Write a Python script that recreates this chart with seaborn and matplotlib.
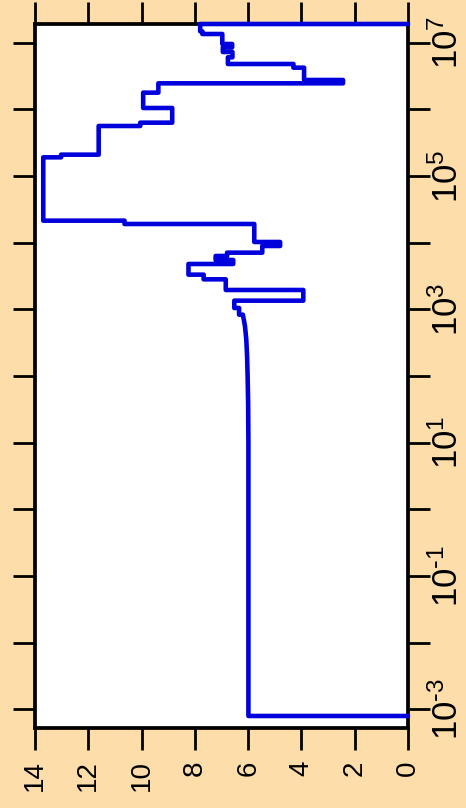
import numpy as np
import pandas as pd
import matplotlib
matplotlib.use("Agg")
import matplotlib.pyplot as plt
from matplotlib.ticker import NullLocator, FuncFormatter, FixedLocator
import seaborn as sns

# Profile vertices: level value and log10 of time, in order of increasing time
value = [0.00, 5.99, 5.99, 6.00, 6.02, 6.04, 6.07, 6.12, 6.17, 6.20,
         6.34, 6.34, 6.52, 6.52, 3.93, 3.93, 6.84, 6.84, 7.67, 7.67,
         8.24, 8.24, 6.56, 6.56, 7.22, 7.22, 6.79, 6.79, 5.47, 5.47,
         4.80, 4.80, 5.77, 5.77, 10.64, 10.64, 13.69, 13.69, 13.02, 13.02,
         11.61, 11.61, 10.05, 10.05, 8.85, 8.85, 9.94, 9.94, 9.37, 9.37,
         2.44, 2.44, 3.90, 3.90, 4.30, 4.30, 6.76, 6.76, 6.59, 6.59,
         6.95, 6.95, 6.60, 6.60, 6.97, 6.97, 7.72, 7.72, 7.80, 7.80,
         0.00]
log10_time = [-3.10, -3.10, 1.00, 1.60, 2.00, 2.30, 2.55, 2.75, 2.86, 2.92,
              2.92, 3.02, 3.02, 3.13, 3.13, 3.29, 3.29, 3.45, 3.45, 3.52,
              3.52, 3.68, 3.68, 3.74, 3.74, 3.80, 3.80, 3.85, 3.85, 3.95,
              3.95, 4.01, 4.01, 4.28, 4.28, 4.33, 4.33, 5.28, 5.28, 5.32,
              5.32, 5.75, 5.75, 5.80, 5.80, 6.02, 6.02, 6.25, 6.25, 6.39,
              6.39, 6.44, 6.44, 6.625, 6.625, 6.68, 6.68, 6.78, 6.78, 6.86,
              6.86, 6.93, 6.93, 6.98, 6.98, 7.13, 7.13, 7.17, 7.17, 7.28,
              7.28]

value_ticks = [0, 2, 4, 6, 8, 10, 12, 14]
time_exponents = list(range(-3, 8))
labelled_exponents = [-3, -1, 1, 3, 5, 7]

bg = "#FDDDAA"
line_color = "#0000DD"

df = pd.DataFrame({"value": value, "time": 10.0 ** np.array(log10_time)})

sns.set_style("white")
plt.rcParams["font.family"] = ["Liberation Sans", "DejaVu Sans"]
plt.rcParams["mathtext.default"] = "regular"
plt.rcParams["text.color"] = "black"

fig = plt.figure(figsize=(4.66, 8.08), dpi=100, facecolor=bg)
ax = fig.add_axes([35 / 466, 80.3 / 808, 373 / 466, 703.7 / 808])
ax.set_facecolor("white")
ax.set_yscale("log")

sns.lineplot(data=df, x="value", y="time", sort=False, estimator=None,
             color=line_color, lw=3.3, ax=ax, clip_on=False, zorder=5)

ax.set_xlim(14, 0)
ax.set_ylim(10 ** -3.276, 10 ** 7.28)
ax.set_xlabel("")
ax.set_ylabel("")

ax.xaxis.set_major_locator(FixedLocator(value_ticks))
ax.yaxis.set_major_locator(FixedLocator([10.0 ** e for e in time_exponents]))
ax.yaxis.set_minor_locator(NullLocator())


def time_label(v, pos):
    e = int(round(np.log10(v)))
    if e not in labelled_exponents:
        return ""
    if e < 0:
        return r"$\mathdefault{10^{\text{-}%d}}$" % (-e)
    return r"$\mathdefault{10^{%d}}$" % e


ax.yaxis.set_major_formatter(FuncFormatter(time_label))
ax.xaxis.set_major_formatter(FuncFormatter(lambda v, p: "%d" % v))

for s in ax.spines.values():
    s.set_linewidth(2.7)
    s.set_color("black")
    s.set_zorder(4)

ax.tick_params(axis="both", which="major", direction="out", length=15.5,
               width=2.0, color="black", labelcolor="black",
               top=True, bottom=True, left=True, right=True,
               labeltop=False, labelleft=False,
               labelbottom=True, labelright=True)
ax.tick_params(axis="x", labelsize=20, pad=8, labelrotation=90)
ax.tick_params(axis="y", labelsize=25, pad=0.5, labelrotation=90)
for tick in ax.yaxis.get_major_ticks():
    tick.label2.set_verticalalignment("center")

fig.savefig("out.png", dpi=100, facecolor=bg)
